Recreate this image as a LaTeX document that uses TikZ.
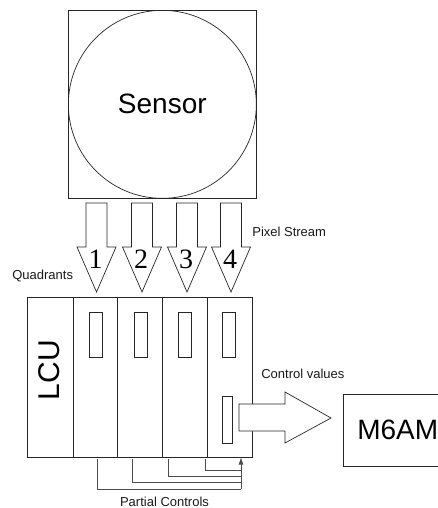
\documentclass[tikz,border=0pt]{standalone}
\usepackage{fontspec}
\setmainfont{Liberation Sans}
\newfontfamily\numfont{Liberation Serif}
\usetikzlibrary{arrows.meta}
\begin{document}
\begin{tikzpicture}[x=1pt,y=-1pt, line width=0.7pt, draw=black!85,
  box/.style={draw, inner sep=0pt, anchor=north west},
  lbl/.style={font=\fontsize{13}{13}\selectfont, inner sep=0pt, text=black!90},
  blockarrow/.style={draw, fill=white, line join=miter},
  ctrl/.style={draw=black!70, line width=0.6pt}]
\path[use as bounding box] (0,0) rectangle (438,508);
\clip (0,0) rectangle (438,508);
% sensor
\node[box, minimum width=188pt, minimum height=188pt] (sensor) at (68,10) {};
\node[draw, circle, minimum size=188pt, inner sep=0pt,
      font=\fontsize{28}{28}\selectfont] (circ) at (sensor.center) {Sensor};
% stream arrows
\foreach \cx/\n in {96.5/1,142/2,187/3,231/4}{
  \draw[blockarrow] ({\cx-10.5},203) -- ({\cx+10.5},203) -- ({\cx+10.5},247)
     -- ({\cx+19.5},247) -- (\cx,292) -- ({\cx-19.5},247) -- ({\cx-10.5},247) -- cycle;
  \node[font=\numfont\fontsize{28}{28}\selectfont, inner sep=0pt] (q\n) at ({\cx-1},259) {\n};
}
% LCU columns
\node[box, minimum width=46pt, minimum height=160pt] (lcu) at (27,297) {};
\node[rotate=90, font=\fontsize{30}{30}\selectfont, inner sep=0pt] (lcut) at (49,370) {LCU};
\node[box, minimum width=44pt, minimum height=160pt] (c1) at (73,297) {};
\node[box, minimum width=45pt, minimum height=160pt] (c2) at (117,297) {};
\node[box, minimum width=45pt, minimum height=160pt] (c3) at (162,297) {};
\node[box, minimum width=45pt, minimum height=160pt] (c4) at (207,297) {};
% small registers
\foreach \x/\n in {89/1,134/2,178/3,222/4}{
  \node[box, minimum width=12.5pt, minimum height=45pt] (r\n) at (\x,312) {};
}
\node[box, minimum width=10pt, minimum height=47pt] (rout) at (222,396) {};
% control values arrow
\draw[blockarrow] (239,404) -- (285,404) -- (285,392) -- (331,418) -- (285,443)
   -- (285,431) -- (239,431) -- cycle;
% M6AM
\node[box, minimum width=110pt, minimum height=72pt] (m6am) at (343,394) {};
\node[font=\fontsize{28}{28}\selectfont, inner sep=0pt, anchor=west] (m6amt) at (357,430) {M6AM};
% partial controls
\coordinate (p1) at (97,459);
\coordinate (p2) at (132,459);
\coordinate (p3) at (168,459);
\coordinate (p4) at (205,459);
\coordinate (pin) at (241,457.5);
\coordinate (pbase) at (241,489);
\draw[ctrl] (p1) |- (pbase);
\draw[ctrl] (p2) |- (241,482);
\draw[ctrl] (p3) |- (241,476);
\draw[ctrl] (p4) |- (241,470);
\draw[ctrl, -{Latex[length=7pt,width=5pt]}] (pbase) -- (pin);
% labels
\node[lbl, anchor=west] (pix) at (252,232) {Pixel Stream};
\node[lbl, anchor=west] (quad) at (12,276) {Quadrants};
\node[lbl, anchor=west] (cv) at (261,374) {Control values};
\node[lbl] (pc) at (164.5,502) {Partial Controls};
\end{tikzpicture}
\end{document}
